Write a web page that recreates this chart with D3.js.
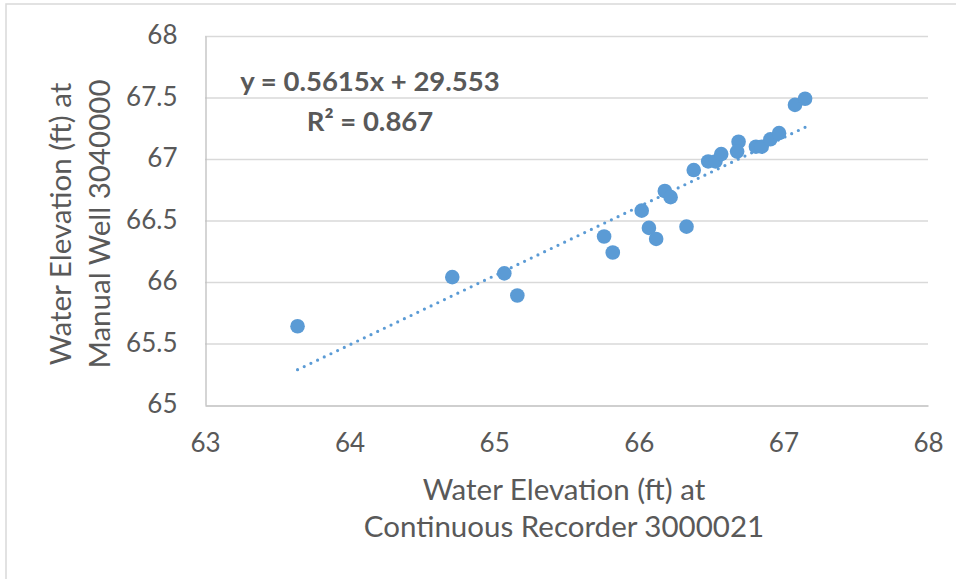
<!DOCTYPE html>
<html>
<head>
<meta charset="utf-8">
<style type="text/css">
  body{
    margin: 0;
    background: white;
  }
  svg text{
    font-family: 'Lato', 'Open Sans', sans-serif;
    fill: #595959;
  }
</style>
</head>
<body>

<script src="https://cdn.jsdelivr.net/npm/d3@7/dist/d3.min.js"></script>

<svg id="chart" width="956" height="579"></svg>

<script>

// continuous recorder 3000021 (x) vs manual well 3040000 (y)
var recorderElev = [63.64, 64.71, 65.07, 65.16, 65.76, 65.82, 66.02, 66.07, 66.12,
                    66.33, 66.18, 66.22, 66.38, 66.48, 66.53, 66.57, 66.69, 66.68,
                    66.81, 66.85, 66.91, 66.97, 67.08, 67.15];
var manualElev   = [65.64, 66.04, 66.07, 65.89, 66.37, 66.24, 66.58, 66.44, 66.35,
                    66.45, 66.74, 66.69, 66.91, 66.98, 66.98, 67.04, 67.14, 67.06,
                    67.10, 67.10, 67.16, 67.21, 67.44, 67.49];

var xTicks = [63, 64, 65, 66, 67, 68];
var yTicks = [65, 65.5, 66, 66.5, 67, 67.5, 68];

var slope = 0.5615, intercept = 29.553;
var eqText = "y = 0.5615x + 29.553";
var r2Text = "R\u00b2 = 0.867";

var xTitle = ["Water Elevation (ft) at", "Continuous Recorder 3000021"];
var yTitle = ["Water Elevation (ft) at", "Manual Well 3040000"];

var blue = "#5b9bd5";

var svg = d3.select("#chart");

// chart area frame
svg.append("rect")
  .attr("x", 6).attr("y", 4)
  .attr("width", 960).attr("height", 600)
  .attr("fill", "none")
  .attr("stroke", "#d9d9d9")
  .attr("stroke-width", 1.5);

var x = d3.scaleLinear().domain([63, 68]).range([205, 928]);
var y = d3.scaleLinear().domain([65, 68]).range([405, 36]);

// horizontal gridlines
svg.append("g")
  .selectAll("line")
  .data(yTicks.slice(1))
  .enter()
  .append("line")
  .attr("x1", x(63)).attr("x2", x(68))
  .attr("y1", function(d) { return y(d) + 0.5; })
  .attr("y2", function(d) { return y(d) + 0.5; })
  .attr("stroke", "#d9d9d9")
  .attr("stroke-width", 1.3);

// axes
var xAxis = svg.append("g")
  .attr("transform", "translate(0," + (y(65) + 0.5) + ")")
  .call(d3.axisBottom(x).tickValues(xTicks).tickSize(0).tickPadding(28).tickFormat(d3.format("d")));

var yAxis = svg.append("g")
  .attr("transform", "translate(" + (x(63) + 0.5) + ",0)")
  .call(d3.axisLeft(y).tickValues(yTicks).tickSize(0).tickPadding(28).tickFormat(function(d) { return d3.format("")(d); }));

[xAxis, yAxis].forEach(function(a) {
  a.select(".domain").attr("stroke", "#bfbfbf").attr("stroke-width", 1.3);
  a.selectAll("text").attr("font-size", 26).attr("fill", "#595959")
    .attr("font-family", "'Lato', 'Open Sans', sans-serif");
});
yAxis.selectAll("text").attr("dy", "0.3em");

// trendline
var xr = d3.extent(recorderElev);
svg.append("line")
  .attr("x1", x(xr[0])).attr("y1", y(slope * xr[0] + intercept))
  .attr("x2", x(xr[1])).attr("y2", y(slope * xr[1] + intercept))
  .attr("stroke", blue)
  .attr("stroke-width", 3.2)
  .attr("stroke-linecap", "round")
  .attr("stroke-dasharray", "0,7.4");

// points
svg.append("g")
  .selectAll("circle")
  .data(recorderElev)
  .enter()
  .append("circle")
  .attr("cx", function(d) { return x(d); })
  .attr("cy", function(d, i) { return y(manualElev[i]); })
  .attr("r", 7.3)
  .attr("fill", blue);

// equation label
svg.append("text")
  .attr("x", 370).attr("y", 91)
  .attr("text-anchor", "middle")
  .attr("font-size", 27.5).attr("font-weight", "bold")
  .text(eqText);

svg.append("text")
  .attr("x", 370).attr("y", 131)
  .attr("text-anchor", "middle")
  .attr("font-size", 27.5).attr("font-weight", "bold")
  .text(r2Text);

// axis titles
svg.append("g")
  .selectAll("text")
  .data(xTitle)
  .enter()
  .append("text")
  .attr("x", 564)
  .attr("y", function(d, i) { return 500 + i * 37; })
  .attr("text-anchor", "middle")
  .attr("font-size", 29.5)
  .text(function(d) { return d; });

svg.append("g")
  .selectAll("text")
  .data(yTitle)
  .enter()
  .append("text")
  .attr("transform", function(d, i) { return "translate(" + (71 + i * 39) + ",224) rotate(-90)"; })
  .attr("text-anchor", "middle")
  .attr("font-size", 29.5)
  .text(function(d) { return d; });

</script>

</body>
</html>
